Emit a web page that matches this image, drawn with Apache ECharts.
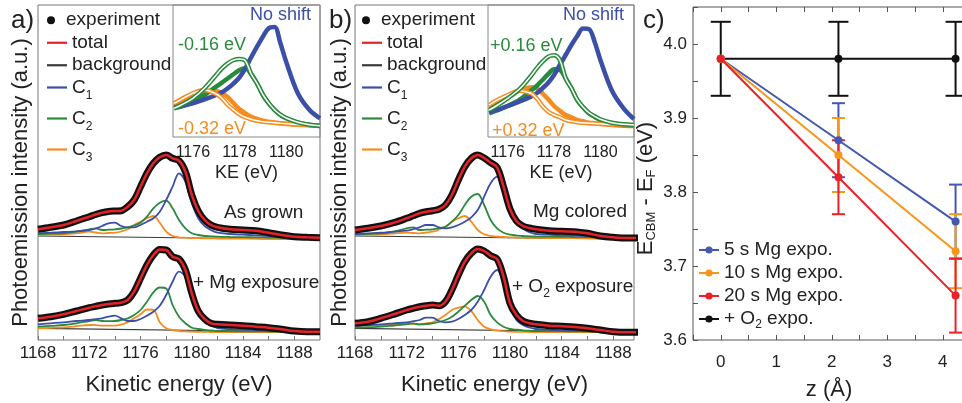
<!DOCTYPE html>
<html>
<head>
<meta charset="utf-8">
<script src="https://cdn.jsdelivr.net/npm/echarts@6/dist/echarts.min.js"></script>
<style>
  html, body { margin: 0; padding: 0; background: #fff; }
  #chart { width: 962px; height: 403px; }
</style>
</head>
<body>
<div id="chart"></div>
<script>
// energies (eV) the spectra were read at
var keMain = [1168, 1169, 1170, 1171, 1172, 1172.5, 1173, 1173.5, 1174, 1174.5, 1175, 1175.5, 1176, 1176.5,
  1177, 1177.5, 1178, 1178.5, 1179, 1179.5, 1180, 1180.5, 1181, 1181.5, 1182, 1183, 1184, 1185, 1186, 1187, 1188, 1189, 1190];
var keBg = [1168, 1190];

// panel a, "As grown" (offset spectrum)
var aTopTotal = [110.7, 112.7, 115, 119, 123.3, 125.5, 127.3, 128.5, 129, 129.3, 133.3, 140, 153.3, 166.7,
  176.7, 182.7, 185, 181.7, 179.3, 168.3, 145, 129, 120, 115, 112.7, 110.7, 110, 109.3, 107.3, 105, 103.3, 102.7, 102.3];
var aTopC1 = [106.7, 107.3, 108, 108.7, 110, 111.5, 114, 116.7, 117.3, 114, 112.7, 112.7, 115, 118.3,
  121.7, 128.3, 140, 153.3, 166.7, 158.3, 136.7, 121.7, 114, 110, 107.3, 106, 105.3, 104.7, 104, 103.7, 103.3, 103, 102.7];
var aTopC2 = [106, 106.3, 106.7, 108.3, 110.7, 111.7, 110, 110.3, 110.7, 111.5, 112.7, 114.5, 117.3, 123.3,
  131.7, 137.3, 139.3, 131.7, 120, 111.7, 106.7, 105, 104, 103.7, 103.3, 103, 102.8, 102.7, 102.5, 102.4, 102.3, 102.3, 102.3];
var aTopC3 = [105, 105.3, 105.7, 106.7, 108.3, 107.5, 106.7, 107, 107.3, 108.5, 110.7, 115, 118.3, 121.7,
  124, 117.3, 108.3, 104, 102.7, 102.3, 102, 101.8, 101.7, 101.6, 101.5, 101.4, 101.3, 101.3, 101.2, 101.1, 101, 101, 101];
var aTopBg = [104, 100.5];

// panel a, "+ Mg exposure"
var aBotTotal = [21.7, 23.3, 25.7, 29, 32.3, 33.7, 35, 36, 36.7, 37.3, 40, 48.3, 61.7, 75,
  85, 90.5, 90, 83.3, 81, 70, 46.7, 29, 21, 16.7, 15.7, 15, 14.3, 13.3, 12.3, 10.7, 9, 8.3, 8.3];
var aBotC1 = [15.7, 16.7, 17.7, 19, 20, 20.8, 21.7, 23.3, 24.3, 21.7, 19, 19, 21, 24.3,
  28.3, 34.3, 45, 58.3, 68.3, 63, 41, 26, 18, 14.5, 12, 10.8, 10.3, 9.8, 9.3, 9, 8.7, 8.5, 8.3];
var aBotC2 = [13.3, 14.2, 15, 16.7, 19, 20, 19, 18.8, 19, 20, 21.7, 25, 30, 38.3,
  47.7, 52.5, 51.5, 35, 23.3, 16.7, 12.3, 11, 10, 9.5, 9, 8.8, 8.7, 8.6, 8.5, 8.4, 8.3, 8.3, 8.3];
var aBotC3 = [11.7, 12.2, 12.7, 13.8, 15, 14.8, 14.3, 14.3, 14.3, 15.5, 17.7, 21.7, 25.7, 30.5,
  30.2, 17.7, 11.7, 10, 9, 8.6, 8.3, 8.2, 8.1, 8, 8, 7.9, 7.9, 7.8, 7.8, 7.8, 7.7, 7.7, 7.7];
var aBotBg = [11.7, 8];

// panel b, "Mg colored"
var bTopTotal = [110, 111.7, 114, 117.3, 121.7, 124.2, 126.7, 128.3, 129.3, 130.7, 135, 145, 160, 173.3,
  181.7, 185, 182, 177.3, 172.7, 153.3, 131, 119, 114, 112, 110.7, 109.3, 108.7, 108.3, 106.7, 104, 102.7, 102, 102];
var bTopC1 = [106, 106.7, 107.3, 108.3, 109.3, 110.8, 112.7, 115, 115, 112.7, 111.7, 112.7, 115, 118.3,
  122.7, 130, 143.3, 156.7, 163.3, 150, 127, 116.7, 111.7, 107.7, 106, 105.3, 104.7, 104.3, 104, 103.5, 103.2, 102.8, 102.7];
var bTopC2 = [105.7, 106.2, 106.7, 108.3, 111.7, 112.7, 110, 110.3, 110.7, 111.8, 113.3, 118.3, 125, 135,
  143.3, 146, 135, 120, 111.7, 107.3, 105.3, 104.6, 104, 103.7, 103.5, 103.3, 103.2, 103, 102.9, 102.8, 102.7, 102.7, 102.7];
var bTopC3 = [105, 105.3, 105.7, 106.5, 107.3, 107, 106.7, 107.5, 108.3, 110.5, 113.3, 118.3, 121.7, 124,
  118.3, 110, 105.7, 104.2, 103.3, 103, 102.7, 102.5, 102.3, 102.2, 102.1, 102, 101.9, 101.9, 101.8, 101.8, 101.7, 101.7, 101.7];
var bTopBg = [104, 100.7];

// panel b, "+ O2 exposure"
var bBotTotal = [16.7, 18.3, 21.7, 25.7, 30, 31.7, 33.3, 34.3, 35, 34.3, 38.3, 50, 65, 78.3,
  86.7, 91, 89, 84.3, 81, 63.3, 36.7, 25, 19, 16.8, 15.7, 14.3, 13.7, 13, 11.7, 10, 8.3, 7.7, 7.7];
var bBotC1 = [14.3, 15, 15.7, 16.7, 17.7, 18.8, 20, 22.3, 22.3, 19, 17.7, 18.3, 21, 25,
  30, 38.3, 50, 63.3, 70, 56.7, 33.3, 20, 15, 12.5, 11, 10.3, 9.7, 9.3, 9, 8.8, 8.6, 8.4, 8.3];
var bBotC2 = [12.3, 12.8, 13.3, 14.5, 15.7, 16.7, 15.7, 16, 16.7, 18, 20, 23.3, 28.3, 34.3,
  40, 44, 38.3, 25, 17.7, 13.3, 11, 10.3, 9.7, 9.3, 9, 8.9, 8.8, 8.7, 8.6, 8.5, 8.4, 8.3, 8.3];
var bBotC3 = [14.3, 14.7, 15, 15.7, 16.7, 16.2, 15.7, 16.5, 17.7, 21, 25, 30, 32.3, 33.3,
  29, 20, 13.3, 10.7, 9.3, 8.8, 8.3, 8.2, 8.1, 8, 8, 7.9, 7.9, 7.8, 7.8, 7.8, 7.7, 7.7, 7.7];
var bBotBg = [11.7, 7.7];

// insets (filled = before, open = shifted)
var keInset = [1175.2, 1175.5, 1176, 1176.5, 1177, 1177.25, 1177.5, 1177.75, 1178, 1178.25,
  1178.5, 1178.75, 1179, 1179.25, 1179.5, 1179.75, 1180, 1180.5, 1181, 1181.45];
var insABlue = [29.7, 31, 33.7, 37.7, 42, 44.7, 48.7, 53.7, 59.7, 68.7, 79.7, 90.3, 100.3, 108.7, 110, 94, 75.3, 43.7, 27, 18.7];
var insAGreen = [28.7, 30.3, 35.3, 42, 50.3, 54.3, 58.7, 63, 67, 68.7, 63, 53.7, 42, 33.7, 27, 22, 18.7, 14.3, 12, 11];
var insAGreenOpen = [28.7, 32, 38.7, 48.7, 62, 68.7, 73.7, 77, 78, 76.3, 63, 53.7, 42.5, 34, 27.3, 22.3, 19, 14.7, 12.3, 11.3];
var insAOrange = [31, 34.3, 39.7, 44.3, 46, 43.7, 39.7, 33.7, 27.7, 23.7, 20.3, 18, 16.3, 15.3, 14.3, 13.7, 13, 12.3, 11.7, 11];
var insAOrangeOpen = [33.7, 37.7, 43.7, 47, 43, 38.7, 32, 27, 22.7, 19.7, 17.7, 16.3, 15.3, 14.7, 14.3, 13.8, 13.3, 12.5, 12, 11.7];

var insBBlue = [25.3, 27, 31, 35.3, 40.3, 43.7, 48.7, 54.3, 62, 72, 82, 92, 101, 108.5, 108, 95.3, 77, 46.3, 28.7, 18];
var insBGreen = [23.7, 26.3, 31, 37, 46.3, 51, 57, 63, 67.7, 67, 58.7, 48.7, 37, 29.7, 23.7, 20.3, 17, 13.7, 12, 11.3];
var insBGreenOpen = [27, 31, 38.7, 47.7, 61, 68.7, 75.3, 80.3, 81.7, 77, 58.7, 48.7, 37.3, 30, 24.3, 20.7, 17.7, 14.3, 12.7, 12];
var insBOrange = [29.7, 34.3, 41, 46.3, 49.7, 48.7, 43.7, 37.7, 31, 26.3, 22, 19.7, 17, 15.7, 14.3, 13.7, 13, 12, 11.3, 11];
var insBOrangeOpen = [32, 36.3, 42, 46.3, 43.7, 38.7, 31, 25.3, 22, 19.7, 17, 15.7, 14.7, 14.2, 13.8, 13.5, 13.2, 12.5, 12, 11.7];

// panel c
var zPos = [0, 2.12, 4.23];
var eO2 = [3.98, 3.98, 3.98];
var errO2 = [0.05, 0.05, 0.05];
var e5 = [3.98, 3.87, 3.76];
var e10 = [3.98, 3.85, 3.72];
var e20 = [3.98, 3.82, 3.66];
var errMg = [null, 0.05, 0.05];

// ticks / labels
var mainTicks = [1168, 1170, 1172, 1174, 1176, 1178, 1180, 1182, 1184, 1186, 1188];
var mainLabels = [1168, 1172, 1176, 1180, 1184, 1188];
var insetLabels = [1176, 1178, 1180];
var zTicks = [-0.5, 0, 0.5, 1, 1.5, 2, 2.5, 3, 3.5, 4];
var zLabels = [0, 1, 2, 3, 4];
var eTicks = [3.6, 3.65, 3.7, 3.75, 3.8, 3.85, 3.9, 3.95, 4.0, 4.05];
var eLabels = [3.6, 3.7, 3.8, 3.9, 4.0];

var FONT = 'Liberation Sans';
var BLUE = '#3b4fa9', GREEN = '#2a8a3b', ORANGE = '#f68b1f', RED = '#e3222a', BLACK = '#111', BG = '#3a3a3a';
var CBLUE = '#4358b3', CORANGE = '#f8951d', CRED = '#ec2128';

function pairs(xs, ys) {
  return xs.map(function (x, i) { return [x, ys[i]]; });
}
function plain(v) { return String(v); }

var chart = echarts.init(document.getElementById('chart'));
var series = [];

function spectrum(axis, total, c1, c2, c3, bg) {
  var base = { type: 'line', xAxisIndex: axis, yAxisIndex: axis, symbol: 'none', smooth: 0.35, z: 3 };
  series.push(Object.assign({}, base, { name: 'background', data: pairs(keBg, bg), smooth: false,
    itemStyle: { color: BG }, lineStyle: { color: BG, width: 1.2 } }));
  series.push(Object.assign({}, base, { name: 'C3', data: pairs(keMain, c3),
    itemStyle: { color: ORANGE }, lineStyle: { color: ORANGE, width: 1.8 } }));
  series.push(Object.assign({}, base, { name: 'C2', data: pairs(keMain, c2),
    itemStyle: { color: GREEN }, lineStyle: { color: GREEN, width: 1.8 } }));
  series.push(Object.assign({}, base, { name: 'C1', data: pairs(keMain, c1),
    itemStyle: { color: BLUE }, lineStyle: { color: BLUE, width: 1.8 } }));
  series.push(Object.assign({}, base, { name: 'experiment', data: pairs(keMain, total),
    itemStyle: { color: BLACK }, lineStyle: { color: BLACK, width: 7 } }));
  series.push(Object.assign({}, base, { name: 'total', data: pairs(keMain, total),
    itemStyle: { color: RED }, lineStyle: { color: RED, width: 2.5 } }));
}

spectrum(0, aTopTotal, aTopC1, aTopC2, aTopC3, aTopBg);
spectrum(0, aBotTotal, aBotC1, aBotC2, aBotC3, aBotBg);
spectrum(1, bTopTotal, bTopC1, bTopC2, bTopC3, bTopBg);
spectrum(1, bBotTotal, bBotC1, bBotC2, bBotC3, bBotBg);

function insetCurves(axis, blue, green, greenOpen, orange, orangeOpen) {
  var base = { type: 'line', xAxisIndex: axis, yAxisIndex: axis, symbol: 'none', smooth: 0.35, z: 4 };
  [[orange, ORANGE], [green, GREEN], [blue, BLUE]].forEach(function (c) {
    series.push(Object.assign({}, base, { data: pairs(keInset, c[0]), lineStyle: { color: c[1], width: 4.5 } }));
  });
  [[orangeOpen, ORANGE], [greenOpen, GREEN]].forEach(function (c) {
    series.push(Object.assign({}, base, { data: pairs(keInset, c[0]), lineStyle: { color: c[1], width: 4.5 } }));
    series.push(Object.assign({}, base, { data: pairs(keInset, c[0]), lineStyle: { color: '#fff', width: 1.5 } }));
  });
}
insetCurves(2, insABlue, insAGreen, insAGreenOpen, insAOrange, insAOrangeOpen);
insetCurves(3, insBBlue, insBGreen, insBGreenOpen, insBOrange, insBOrangeOpen);

function errorBars(name, vals, errs, color, capHalf) {
  var data = [];
  zPos.forEach(function (z, i) { if (errs[i] != null) data.push([z, vals[i], errs[i]]); });
  series.push({
    type: 'custom', name: name, xAxisIndex: 4, yAxisIndex: 4, data: data, z: 5,
    renderItem: function (params, api) {
      var x = api.value(0), y = api.value(1), e = api.value(2);
      var top = api.coord([x, y + e]), bot = api.coord([x, y - e]);
      var st = { stroke: color, lineWidth: 2 };
      return { type: 'group', children: [
        { type: 'line', shape: { x1: top[0], y1: top[1], x2: bot[0], y2: bot[1] }, style: st },
        { type: 'line', shape: { x1: top[0] - capHalf, y1: top[1], x2: top[0] + capHalf, y2: top[1] }, style: st },
        { type: 'line', shape: { x1: bot[0] - capHalf, y1: bot[1], x2: bot[0] + capHalf, y2: bot[1] }, style: st }
      ] };
    }
  });
}
function cLine(name, vals, color) {
  series.push({ type: 'line', name: name, xAxisIndex: 4, yAxisIndex: 4, data: pairs(zPos, vals), z: 6,
    symbol: 'circle', symbolSize: 8, itemStyle: { color: color }, lineStyle: { color: color, width: 2 } });
}
errorBars('errO2', eO2, errO2, BLACK, 10);
cLine('+ O2 expo.', eO2, BLACK);
errorBars('err5', e5, errMg, CBLUE, 6.5);
cLine('5 s Mg expo.', e5, CBLUE);
errorBars('err10', e10, errMg, CORANGE, 6.5);
cLine('10 s Mg expo.', e10, CORANGE);
errorBars('err20', e20, errMg, CRED, 6.5);
cLine('20 s Mg expo.', e20, CRED);

var subRich = {
  c: { fontFamily: FONT, fontSize: 19, lineHeight: 29, color: '#222' },
  s: { fontFamily: FONT, fontSize: 12, lineHeight: 7, verticalAlign: 'bottom', color: '#222' }
};
function specAxisX(grid, max, name) {
  return {
    type: 'value', gridIndex: grid, min: 1168, max: max,
    axisLine: { show: false, onZero: false }, splitLine: { show: false },
    axisTick: { show: true, inside: true, length: 4, customValues: mainTicks, lineStyle: { color: '#777' } },
    axisLabel: { customValues: mainLabels, formatter: plain, fontSize: 17, margin: 5, fontFamily: FONT, color: '#222' },
    name: name, nameLocation: 'middle', nameGap: 34,
    nameTextStyle: { fontSize: 22, fontFamily: FONT, color: '#222' }
  };
}
function specAxisY(grid, gap) {
  return {
    type: 'value', gridIndex: grid, min: 0, max: 335,
    axisLine: { show: false, onZero: false }, axisTick: { show: false }, axisLabel: { show: false }, splitLine: { show: false },
    name: 'Photoemission intensity (a.u.)', nameLocation: 'middle', nameGap: gap,
    nameTextStyle: { fontSize: 22, fontFamily: FONT, color: '#222', padding: [0, 20, 0, 0] }
  };
}
function insetX(grid) {
  return {
    type: 'value', gridIndex: grid, min: 1175.15, max: 1181.45,
    axisLine: { show: false, onZero: false }, axisTick: { show: false }, splitLine: { show: false },
    axisLabel: { customValues: insetLabels, formatter: plain, fontSize: 16, margin: 8, fontFamily: FONT, color: '#222' },
    name: 'KE (eV)', nameLocation: 'middle', nameGap: 27,
    nameTextStyle: { fontSize: 18, fontFamily: FONT, color: '#222' }
  };
}
function insetY(grid) {
  return { type: 'value', gridIndex: grid, min: 0, max: 132, show: false, axisLine: { onZero: false } };
}
function specLegends(left) {
  var common = { left: left, orient: 'vertical', padding: 0, itemWidth: 20, selectedMode: false };
  return [
    Object.assign({}, common, { top: 9, itemGap: 0, itemHeight: 8,
      textStyle: { fontSize: 19, lineHeight: 22.5, fontFamily: FONT, color: '#222' },
      data: [{ name: 'experiment', icon: 'circle' }] }),
    Object.assign({}, common, { top: 31.5, itemGap: 0, itemHeight: 2.2,
      textStyle: { fontSize: 19, lineHeight: 22.5, fontFamily: FONT, color: '#222' },
      data: [{ name: 'total', icon: 'rect' }, { name: 'background', icon: 'rect' }] }),
    Object.assign({}, common, { top: 78, itemGap: 7, itemHeight: 2.2,
      textStyle: { fontSize: 19, fontFamily: FONT, color: '#222', rich: subRich },
      formatter: function (n) { return '{c|C}{s|' + n.slice(1) + '}'; },
      data: [{ name: 'C1', icon: 'rect' }, { name: 'C2', icon: 'rect' }, { name: 'C3', icon: 'rect' }] })
  ];
}

function label(x, y, text, color, size, rich) {
  return { type: 'text', x: x, y: y, z: 10, style: { text: text, fill: color || '#222', fontSize: size || 19,
    fontFamily: FONT, align: 'left', verticalAlign: 'middle', rich: rich } };
}
var o2Rich = {
  t: { fontFamily: FONT, fontSize: 19, lineHeight: 26, fill: '#222', color: '#222' },
  s: { fontFamily: FONT, fontSize: 12, lineHeight: 8, verticalAlign: 'bottom', fill: '#222', color: '#222' }
};

function frame(left, top, width, height, color, z) {
  return { left: left, top: top, width: width, height: height, show: true, borderColor: color, borderWidth: 1,
    outerBoundsMode: 'none', containLabel: false, z: z || 0 };
}

var option = {
  animation: false,
  backgroundColor: '#fff',
  grid: [
    frame(38, 5, 282, 335, '#777'),
    frame(355, 5, 279, 335, '#777'),
    frame(173, 5, 147, 132, '#888', 3),
    frame(488, 5, 146, 132, '#888', 3),
    frame(693, 7, 272, 333, '#555')
  ],
  xAxis: [
    specAxisX(0, 1190, 'Kinetic energy (eV)'),
    specAxisX(1, 1189.6, 'Kinetic energy (eV)'),
    insetX(2),
    insetX(3),
    { type: 'value', gridIndex: 4, min: -0.5, max: 4.4,
      axisLine: { show: false, onZero: false }, splitLine: { show: false },
      axisTick: { inside: true, length: 5, customValues: zTicks, lineStyle: { color: '#555' } },
      axisLabel: { customValues: zLabels, formatter: plain, fontSize: 17, margin: 14, fontFamily: FONT, color: '#222' },
      name: 'z (Å)', nameLocation: 'middle', nameGap: 39,
      nameTextStyle: { fontSize: 22, fontFamily: FONT, color: '#222' } },
    { type: 'value', gridIndex: 4, min: -0.5, max: 4.4, position: 'top',
      axisLine: { show: false, onZero: false }, splitLine: { show: false }, axisLabel: { show: false },
      axisTick: { inside: true, length: 5, customValues: zTicks, lineStyle: { color: '#555' } } }
  ],
  yAxis: [
    specAxisY(0, 6),
    specAxisY(1, 4),
    insetY(2),
    insetY(3),
    { type: 'value', gridIndex: 4, min: 3.6, max: 4.05,
      axisLine: { show: false, onZero: false }, splitLine: { show: false },
      axisTick: { inside: true, length: 5, customValues: eTicks, lineStyle: { color: '#555' } },
      axisLabel: { customValues: eLabels, fontSize: 17, margin: 6, fontFamily: FONT, color: '#222',
        formatter: function (v) { return v.toFixed(1); } },
      name: '{m|E}{s|CBM}{m| - E}{s|F}{m| (eV)}', nameLocation: 'middle', nameGap: 35,
      nameTextStyle: { fontSize: 22, fontFamily: FONT, color: '#222', padding: [0, 30, 0, 0],
        rich: {
          m: { fontSize: 22, fontFamily: FONT, lineHeight: 24, color: '#222' },
          s: { fontSize: 13, fontFamily: FONT, lineHeight: 8, verticalAlign: 'bottom', color: '#222' }
        } } }
  ],
  legend: specLegends(47).concat(specLegends(362)).concat([
    { left: 698, top: 238.5, orient: 'vertical', padding: 0, itemGap: 0, itemWidth: 20, itemHeight: 9,
      selectedMode: false,
      textStyle: { fontSize: 19, lineHeight: 23, fontFamily: FONT, color: '#222', rich: {
        t: { fontSize: 19, lineHeight: 23, fontFamily: FONT, color: '#222' },
        s: { fontSize: 12, lineHeight: 7, verticalAlign: 'bottom', fontFamily: FONT, color: '#222' } } },
      formatter: function (n) { return n === '+ O2 expo.' ? '{t|+ O}{s|2}{t| expo.}' : n; },
      data: ['5 s Mg expo.', '10 s Mg expo.', '20 s Mg expo.', '+ O2 expo.'] }
  ]),
  graphic: [
    label(11, 21, 'a)', '#222', 26),
    label(329, 21, 'b)', '#222', 26),
    label(643, 21, 'c)', '#222', 26),
    label(224, 213, 'As grown'),
    label(193, 283, '+ Mg exposure'),
    label(533, 212, 'Mg colored'),
    label(512, 287, '{t|+ O}{s|2}{t| exposure}', '#222', 19, o2Rich),
    label(250, 15, 'No shift', BLUE, 18),
    label(178, 45.5, '-0.16 eV', GREEN, 18),
    label(178, 129.5, '-0.32 eV', ORANGE, 18),
    label(563, 15, 'No shift', BLUE, 18),
    label(490, 46, '+0.16 eV', GREEN, 18),
    label(492, 131, '+0.32 eV', ORANGE, 18)
  ],
  series: series
};
chart.setOption(option);
</script>
</body>
</html>
